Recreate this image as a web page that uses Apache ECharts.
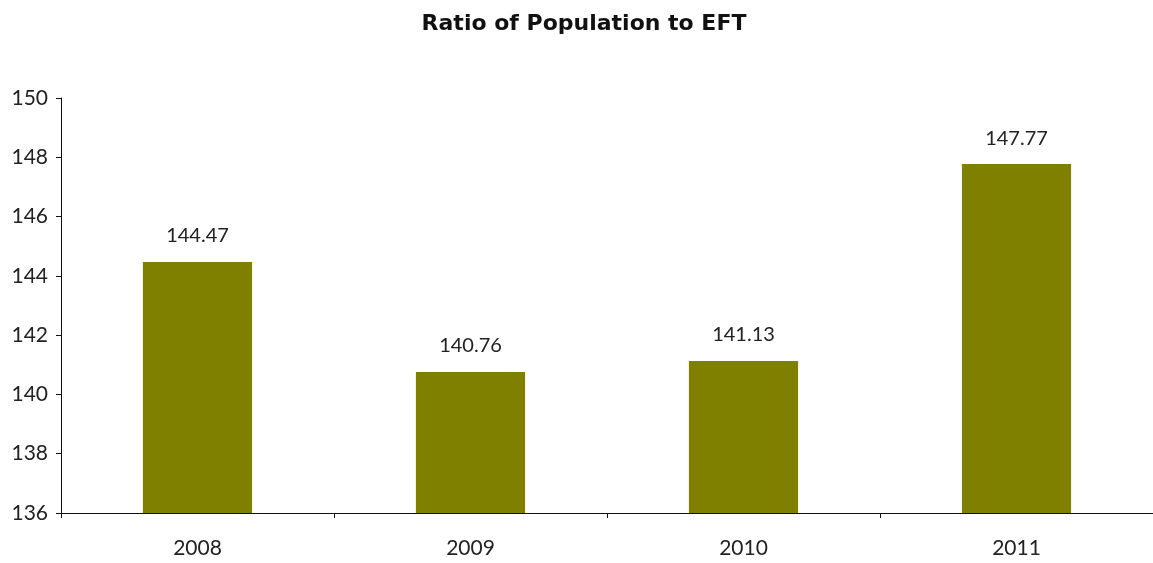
<!DOCTYPE html>
<html>
<head>
<meta charset="utf-8">
<script src="https://cdn.jsdelivr.net/npm/echarts@6/dist/echarts.min.js"></script>
<style>
  html, body { margin: 0; padding: 0; background: #fff; }
  #chart { width: 1153px; height: 563px; }
</style>
</head>
<body>
<div id="chart"></div>
<script>
var years = ['2008', '2009', '2010', '2011'];
var ratios = [144.47, 140.76, 141.13, 147.77];
var yTicks = { min: 136, max: 150, step: 2 };

var chart = echarts.init(document.getElementById('chart'));

var font = 'Lato, "DejaVu Sans", sans-serif';

chart.setOption({
  backgroundColor: '#ffffff',
  animation: false,
  title: {
    text: 'Ratio of Population to EFT',
    left: 579,
    textAlign: 'center',
    top: 8,
    textStyle: { fontFamily: '"DejaVu Sans", sans-serif', fontSize: 22, fontWeight: 'bold', color: '#111' }
  },
  grid: { left: 61, right: -4, top: 98, bottom: 50, containLabel: false },
  xAxis: {
    type: 'category',
    data: years,
    axisLine: { lineStyle: { color: '#111', width: 1 } },
    axisTick: { show: true, length: 5, lineStyle: { color: '#111' } },
    axisLabel: { fontFamily: font, fontSize: 21, color: '#222', margin: 25 }
  },
  yAxis: {
    type: 'value',
    min: yTicks.min,
    max: yTicks.max,
    interval: yTicks.step,
    axisLine: { show: true, lineStyle: { color: '#111', width: 1 } },
    axisTick: { show: true, length: 5, lineStyle: { color: '#111' } },
    splitLine: { show: false },
    axisLabel: { fontFamily: font, fontSize: 21, color: '#222', margin: 13 }
  },
  series: [{
    type: 'bar',
    data: ratios,
    barWidth: '40%',
    itemStyle: { color: '#808000' },
    label: {
      show: true,
      position: 'top',
      distance: 16,
      fontFamily: font,
      fontSize: 20,
      color: '#222',
      formatter: function (p) { return p.value.toFixed(2); }
    }
  }]
});
</script>
</body>
</html>
